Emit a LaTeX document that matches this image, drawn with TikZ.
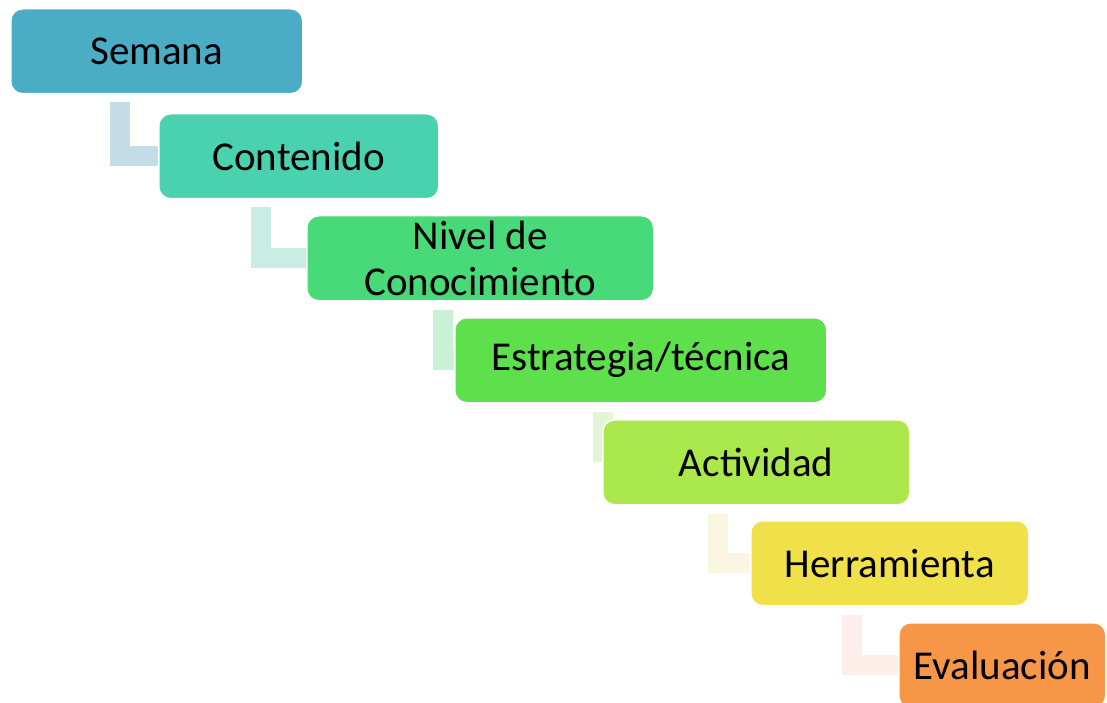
\documentclass[tikz,border=0pt]{standalone}
\usepackage{fontspec}
\setmainfont{Carlito}
\usetikzlibrary{positioning,backgrounds}

\definecolor{semana}{HTML}{4BACC6}
\definecolor{contenido}{HTML}{4AD1B0}
\definecolor{nivel}{HTML}{48D978}
\definecolor{estrategia}{HTML}{5DE04B}
\definecolor{actividad}{HTML}{ABE84B}
\definecolor{herramienta}{HTML}{F0E14A}
\definecolor{evaluacion}{HTML}{F79646}
% colores claros de los codos
\definecolor{codoA}{HTML}{C3DCE5}
\definecolor{codoB}{HTML}{C9EDE2}
\definecolor{codoC}{HTML}{C9F1D6}
\definecolor{codoD}{HTML}{E4F4D6}
\definecolor{codoE}{HTML}{FBF6E1}
\definecolor{codoF}{HTML}{FDEEE9}

\tikzset{
  paso/.style={draw=white, line width=1.5pt, rounded corners=12pt, anchor=north west,
    inner sep=0pt, minimum height=85pt, align=center, font=\fontsize{41}{46}\selectfont},
  codo/.style={line width=20pt, line join=miter, color=#1},
}

\begin{document}
\begin{tikzpicture}[x=1pt,y=-1pt]
        \useasboundingbox (0,0) rectangle (1107,703);
        \node[paso, fill=semana, minimum width=292pt] (semana) at (10,8) {Semana};
        \node[paso, fill=contenido, minimum width=280pt] (contenido) at (158,113) {Contenido};
        \node[paso, fill=nivel, minimum width=347pt] (nivel) at (306,215) {Nivel de\\Conocimiento};
        \node[paso, fill=estrategia, minimum width=372pt] (estrategia) at (454,317) {Estrategia/técnica};
        \node[paso, fill=actividad, minimum width=307pt] (actividad) at (602,419) {Actividad};
        \node[paso, fill=herramienta, minimum width=278pt] (herramienta) at (750,520) {Herramienta};
        \node[paso, fill=evaluacion, minimum width=207pt] (evaluacion) at (898,622) {Evaluación};
        \begin{scope}[on background layer]
        \draw[codo=codoA] ([xshift=110pt,yshift=-8pt]semana.south west) |- (contenido.west);
        \draw[codo=codoB] ([xshift=103pt,yshift=-8pt]contenido.south west) |- (nivel.west);
        \draw[codo=codoC] ([xshift=137pt,yshift=-8pt]nivel.south west) |- (estrategia.west);
        \draw[codo=codoD] ([xshift=149pt,yshift=-8pt]estrategia.south west) |- (actividad.west);
        \draw[codo=codoE] ([xshift=116pt,yshift=-8pt]actividad.south west) |- (herramienta.west);
        \draw[codo=codoF] ([xshift=102pt,yshift=-8pt]herramienta.south west) |- (evaluacion.west);
        \end{scope}
      \end{tikzpicture}
\end{document}
